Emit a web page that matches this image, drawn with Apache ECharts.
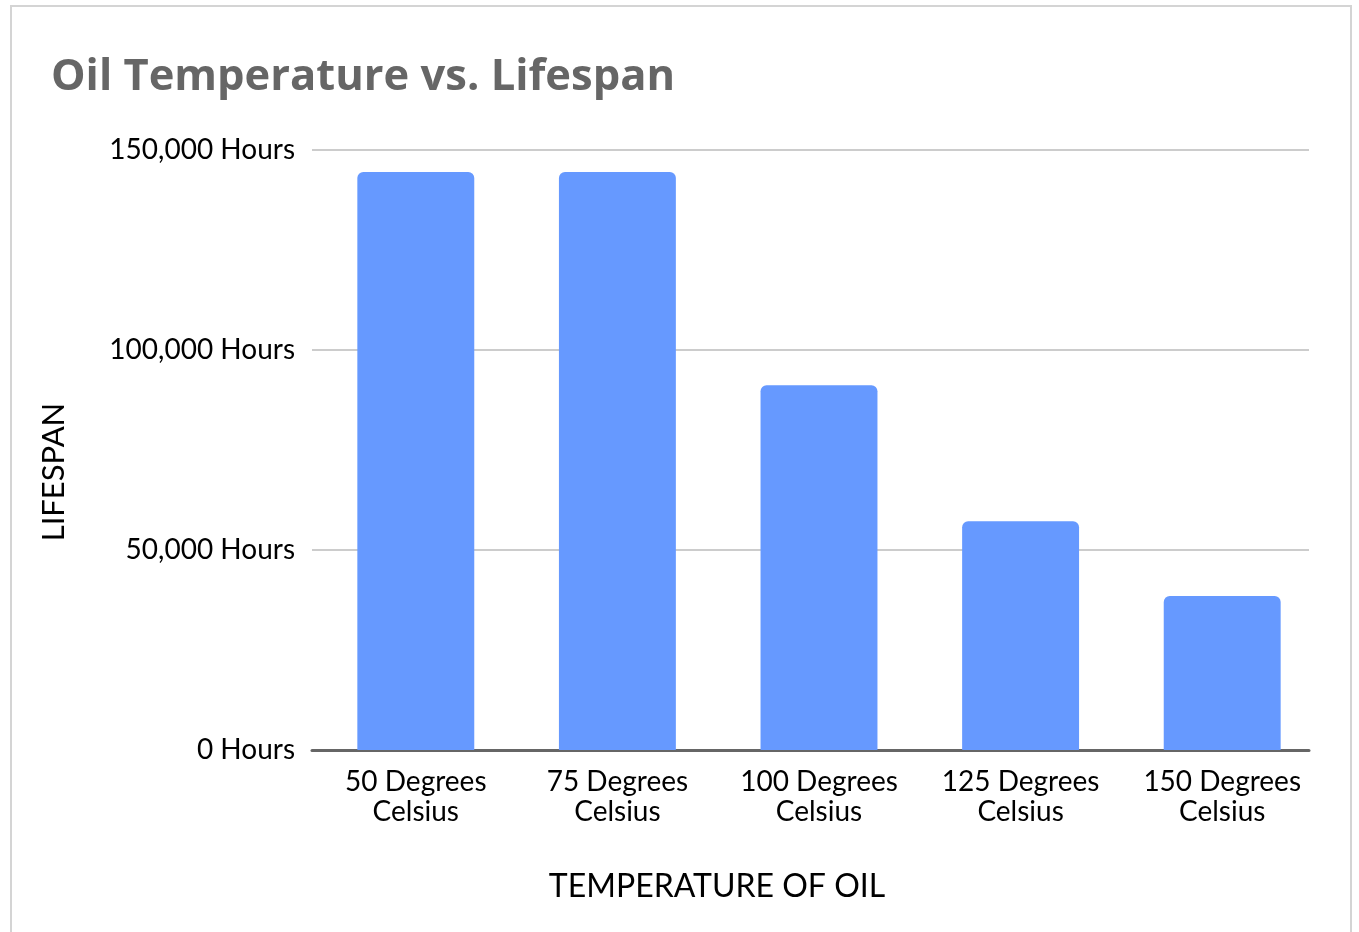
<!DOCTYPE html>
<html>
<head>
<meta charset="utf-8">
<script src="https://cdn.jsdelivr.net/npm/echarts@6/dist/echarts.min.js"></script>
<style>
  html, body { margin: 0; padding: 0; background: #fff; }
  #frame { position: absolute; left: 10px; top: 5px; width: 1342px; height: 940px;
           border: 2px solid #d4d4d4; box-sizing: border-box; }
  #chart { position: absolute; left: 0; top: 0; width: 1359px; height: 932px; }
</style>
</head>
<body>
<div id="frame"></div>
<div id="chart"></div>
<script>
// Oil temperature categories and the lifespan reached at each (hours)
const temperatures = ['50 Degrees\nCelsius', '75 Degrees\nCelsius', '100 Degrees\nCelsius',
                      '125 Degrees\nCelsius', '150 Degrees\nCelsius'];
const lifespanHours = [144500, 144500, 91200, 57200, 38500];
const yTicks = [0, 50000, 100000, 150000];

const FONT = 'Lato';
const Y_MIN = yTicks[0];
const Y_MAX = yTicks[yTicks.length - 1];
const Y_STEP = yTicks[1] - yTicks[0];

const chart = echarts.init(document.getElementById('chart'));
chart.setOption({
  backgroundColor: 'transparent',
  animation: false,
  title: {
    text: 'Oil Temperature vs. Lifespan',
    left: 46, top: 51,
    textStyle: { fontFamily: 'Open Sans', fontWeight: 'bold', fontSize: 43.5, color: '#666666' }
  },
  // grid 0: value scale, gridlines and baseline; grid 1: the category band holding the bars
  grid: [
    { left: 312, right: 50, top: 150, bottom: 182 },
    { left: 315, right: 36, top: 150, bottom: 182 }
  ],
  xAxis: [{
    type: 'category',
    gridIndex: 0,
    data: temperatures,
    axisLine: { lineStyle: { color: '#666666', width: 3 } },
    axisTick: { show: false },
    axisLabel: { show: false }
  }, {
    type: 'category',
    gridIndex: 1,
    data: temperatures,
    name: 'TEMPERATURE OF OIL',
    nameLocation: 'middle',
    nameGap: 121,
    nameTextStyle: { fontFamily: FONT, fontSize: 32, color: '#000', padding: [0, 204, 0, 0] },
    axisLine: { show: false },
    axisTick: { show: false },
    axisLabel: { interval: 0, fontFamily: FONT, fontSize: 28, color: '#000', lineHeight: 30, margin: 17 }
  }],
  yAxis: [{
    type: 'value',
    gridIndex: 0,
    min: Y_MIN, max: Y_MAX, interval: Y_STEP,
    name: 'LIFESPAN',
    nameLocation: 'middle',
    nameGap: 243,
    nameTextStyle: { fontFamily: FONT, fontSize: 31, color: '#000', padding: [0, 44, 0, 0] },
    axisLine: { show: false },
    axisTick: { show: false },
    splitLine: { lineStyle: { color: '#cccccc', width: 2 } },
    axisLabel: {
      fontFamily: FONT, fontSize: 28, color: '#000', margin: 17,
      formatter: v => v.toLocaleString('en-US') + ' Hours'
    }
  }, {
    type: 'value',
    gridIndex: 1,
    min: Y_MIN, max: Y_MAX, interval: Y_STEP,
    show: false
  }],
  series: [{
    type: 'bar',
    xAxisIndex: 1,
    yAxisIndex: 1,
    data: lifespanHours,
    barWidth: '58%',
    itemStyle: { color: '#6699ff', borderRadius: [6, 6, 0, 0] }
  }]
});
</script>
</body>
</html>
